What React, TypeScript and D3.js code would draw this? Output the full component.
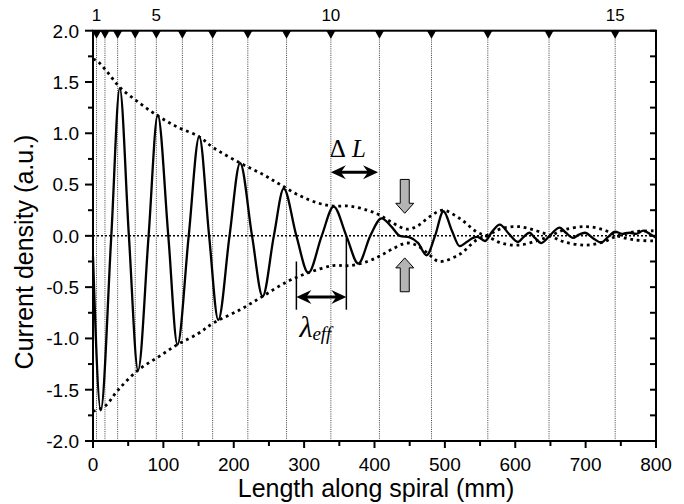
import React from 'react';
import * as d3 from 'd3';

const W = 684;
const H = 504;

// axis ticks
const xTicks = [0, 100, 200, 300, 400, 500, 600, 700, 800];
const xMinorTicks = [50, 150, 250, 350, 450, 550, 650, 750];
const yTicks = [-2, -1.5, -1, -0.5, 0, 0.5, 1, 1.5, 2];
const yMinorTicks = [-1.75, -1.25, -0.75, -0.25, 0.25, 0.75, 1.25, 1.75];

// turn markers along the spiral (top axis)
const turnPositions = [5, 17, 35, 60, 90, 127, 170, 220, 275, 338, 407, 481, 561, 648, 742];
const turnLabels = ['1', '', '', '', '5', '', '', '', '', '10', '', '', '', '', '15'];

// main current density curve
const curveX = [0, 11, 26, 38, 51, 64, 79, 92, 107, 120, 136, 151, 165, 178, 194, 209, 226, 241, 257, 271, 289, 306, 325, 342, 360, 377, 394, 410, 424, 436, 450, 462, 474, 486, 498, 510, 521, 531, 540, 546, 557, 567, 578, 591, 604, 612, 620, 628, 637, 650, 663, 672, 682, 690, 699, 710, 722, 732, 742, 752, 762, 772, 782, 791, 800];
const curveY = [-0.2, -1.7, 0, 1.44, 0, -1.31, 0, 1.18, 0, -1.06, 0, 0.97, 0, -0.82, 0, 0.71, 0, -0.59, 0, 0.46, 0, -0.36, 0, 0.285, 0, -0.27, 0, 0.17, 0.09, 0.0, -0.015, -0.07, -0.19, 0.0, 0.24, 0.05, -0.1, -0.06, -0.02, -0.01, -0.05, 0.04, 0.11, 0.02, -0.06, -0.01, 0.03, -0.02, -0.07, 0.01, 0.08, 0.03, -0.02, 0.01, 0.03, -0.02, -0.065, -0.01, 0.04, 0.02, 0.03, 0.02, 0.05, 0.02, -0.02];

// dotted envelopes
const envUpperX = [0, 5, 20, 38, 65, 92, 120, 150, 171, 209, 241, 266, 294, 320, 341, 365, 390, 408, 425, 446, 462, 479, 497, 521, 545, 562, 580, 605, 630, 650, 670, 700, 725, 745, 770, 800];
const envUpperY = [1.72, 1.71, 1.6, 1.45, 1.3, 1.17, 1.06, 0.97, 0.86, 0.71, 0.6, 0.5, 0.39, 0.32, 0.29, 0.29, 0.25, 0.2, 0.13, 0.065, 0.1, 0.19, 0.25, 0.17, 0.04, -0.01, -0.07, -0.09, -0.05, 0.0, 0.06, 0.09, 0.06, 0.0, -0.04, -0.05];
const envLowerX = [0, 17, 36, 64, 93, 120, 150, 171, 209, 241, 275, 306, 341, 365, 390, 408, 425, 446, 462, 479, 492, 521, 545, 562, 580, 605, 630, 650, 670, 700, 725, 745, 770, 800];
const envLowerY = [-1.71, -1.66, -1.5, -1.31, -1.18, -1.06, -0.95, -0.85, -0.72, -0.59, -0.45, -0.36, -0.29, -0.29, -0.25, -0.195, -0.13, -0.07, -0.1, -0.19, -0.25, -0.18, -0.04, 0.01, 0.07, 0.09, 0.05, 0.0, -0.06, -0.09, -0.06, 0.0, 0.04, 0.05];

// annotation anchors (data units)
const deltaL = { x1: 338, x2: 405, y: 0.62, labelY: 0.77 };
const lambda = { x1: 289, x2: 360, top1: -0.25, top2: 0.0, bottom: -0.72, arrowY: -0.595, labelY: -0.99 };
const squeeze = { x: 443, downTop: 0.55, downTip: 0.22, upTip: -0.215, upBottom: -0.545 };

const M = { left: 93, right: 656, top: 30.7, bottom: 441 };

export default function App() {
  const x = d3.scaleLinear().domain([0, 800]).range([M.left, M.right]);
  const y = d3.scaleLinear().domain([-2, 2]).range([M.bottom, M.top]);

  const mainLine = d3
    .line<[number, number]>()
    .x((d) => x(d[0]))
    .y((d) => y(d[1]))
    .curve(d3.curveMonotoneX);

  const envLine = d3
    .line<[number, number]>()
    .x((d) => x(d[0]))
    .y((d) => y(d[1]))
    .curve(d3.curveCatmullRom.alpha(0.5));

  const mainPath = mainLine(curveX.map((v, i) => [v, curveY[i]]) as [number, number][]) || '';
  const upPath = envLine(envUpperX.map((v, i) => [v, envUpperY[i]]) as [number, number][]) || '';
  const lowPath = envLine(envLowerX.map((v, i) => [v, envLowerY[i]]) as [number, number][]) || '';

  const sans = "'Liberation Sans', Arial, Helvetica, sans-serif";
  const serif = "'Liberation Serif', 'Times New Roman', serif";

  const head = (tx: number, ty: number, dir: number) => {
    const L = 15;
    const hw = 7;
    const notch = 5;
    return `M${tx},${ty} L${tx + dir * L},${ty - hw} L${tx + dir * (L - notch)},${ty} L${tx + dir * L},${ty + hw} Z`;
  };

  const blockArrow = (cx: number, tailY: number, tipY: number) => {
    const dir = tipY > tailY ? 1 : -1;
    const shaftW = 4.5;
    const headW = 9;
    const headL = 10;
    const neck = tipY - dir * headL;
    return `M${cx - shaftW},${tailY} L${cx + shaftW},${tailY} L${cx + shaftW},${neck} L${cx + headW},${neck} L${cx},${tipY} L${cx - headW},${neck} L${cx - shaftW},${neck} Z`;
  };

  const dlY = y(deltaL.y);
  const lamY = y(lambda.arrowY);

  return (
    <svg
      width={W}
      height={H}
      style={{ position: 'absolute', left: 0, top: 0, background: '#fff' }}
      xmlns="http://www.w3.org/2000/svg"
    >
      <rect x={0} y={0} width={W} height={H} fill="#fff" />

      {turnPositions.map((t, i) => (
        <line
          key={'v' + i}
          x1={x(t)}
          x2={x(t)}
          y1={M.top}
          y2={M.bottom}
          stroke="#000"
          strokeWidth={1}
          strokeDasharray="1,1.2"
          opacity={0.75}
        />
      ))}

      <line x1={M.left} x2={M.right} y1={y(0)} y2={y(0)} stroke="#000" strokeWidth={1.5} strokeDasharray="2,2" />

      <path d={upPath} fill="none" stroke="#000" strokeWidth={2.8} strokeDasharray="2.8,3.8" />
      <path d={lowPath} fill="none" stroke="#000" strokeWidth={2.8} strokeDasharray="2.8,3.8" />

      <path d={mainPath} fill="none" stroke="#000" strokeWidth={2.3} strokeLinejoin="round" />

      <rect x={M.left} y={M.top} width={M.right - M.left} height={M.bottom - M.top} fill="none" stroke="#000" strokeWidth={2} />

      {yTicks.map((t) => (
        <g key={'yt' + t}>
          <line x1={M.left - 8} x2={M.left} y1={y(t)} y2={y(t)} stroke="#000" strokeWidth={2} />
          <line x1={M.right - 6} x2={M.right} y1={y(t)} y2={y(t)} stroke="#000" strokeWidth={2} />
          <text x={79} y={y(t)} dy="0.36em" textAnchor="end" fontFamily={sans} fontSize={19}>
            {t.toFixed(1)}
          </text>
        </g>
      ))}
      {yMinorTicks.map((t) => (
        <g key={'ym' + t}>
          <line x1={M.left - 5} x2={M.left} y1={y(t)} y2={y(t)} stroke="#000" strokeWidth={2} />
          <line x1={M.right - 6} x2={M.right} y1={y(t)} y2={y(t)} stroke="#000" strokeWidth={2} />
        </g>
      ))}

      {xTicks.map((t) => (
        <g key={'xt' + t}>
          <line x1={x(t)} x2={x(t)} y1={M.bottom} y2={M.bottom + 7} stroke="#000" strokeWidth={2} />
          <text x={x(t)} y={471} textAnchor="middle" fontFamily={sans} fontSize={19}>
            {t}
          </text>
        </g>
      ))}
      {xMinorTicks.map((t) => (
        <line key={'xm' + t} x1={x(t)} x2={x(t)} y1={M.bottom} y2={M.bottom + 5} stroke="#000" strokeWidth={2} />
      ))}

      {turnPositions.map((t, i) => (
        <g key={'tm' + i}>
          <path d={`M${x(t) - 4.5},${M.top} L${x(t) + 4.5},${M.top} L${x(t)},${M.top + 8} Z`} fill="#000" />
          {turnLabels[i] && (
            <text x={x(t)} y={20.5} textAnchor="middle" fontFamily={sans} fontSize={17}>
              {turnLabels[i]}
            </text>
          )}
        </g>
      ))}

      <text x={376} y={497} textAnchor="middle" fontFamily={sans} fontSize={25}>
        Length along spiral (mm)
      </text>
      <text transform={`translate(33,${252}) rotate(-90)`} textAnchor="middle" fontFamily={sans} fontSize={25}>
        Current density (a.u.)
      </text>

      <line x1={x(deltaL.x1) + 8} x2={x(deltaL.x2) - 8} y1={dlY} y2={dlY} stroke="#000" strokeWidth={3} />
      <path d={head(x(deltaL.x1), dlY, 1)} fill="#000" />
      <path d={head(x(deltaL.x2), dlY, -1)} fill="#000" />
      <text x={x(deltaL.x1) - 1} y={y(deltaL.labelY)} fontFamily={serif} fontSize={25}>
        <tspan>Δ</tspan>
        <tspan dx={6} fontStyle="italic">L</tspan>
      </text>

      <line x1={x(lambda.x1)} x2={x(lambda.x1)} y1={y(lambda.top1)} y2={y(lambda.bottom)} stroke="#000" strokeWidth={1.5} />
      <line x1={x(lambda.x2)} x2={x(lambda.x2)} y1={y(lambda.top2)} y2={y(lambda.bottom)} stroke="#000" strokeWidth={1.5} />
      <line x1={x(lambda.x1) + 8} x2={x(lambda.x2) - 8} y1={lamY} y2={lamY} stroke="#000" strokeWidth={3} />
      <path d={head(x(lambda.x1), lamY, 1)} fill="#000" />
      <path d={head(x(lambda.x2), lamY, -1)} fill="#000" />
      <text x={x(lambda.x1) + 3} y={y(lambda.labelY)} fontFamily={serif} fontStyle="italic">
        <tspan fontSize={30}>λ</tspan>
        <tspan fontSize={19} dy={3}>eff</tspan>
      </text>

      <path d={blockArrow(x(squeeze.x), y(squeeze.downTop), y(squeeze.downTip))} fill="#b4b4b4" stroke="#000" strokeWidth={1} />
      <path d={blockArrow(x(squeeze.x), y(squeeze.upBottom), y(squeeze.upTip))} fill="#b4b4b4" stroke="#000" strokeWidth={1} />
    </svg>
  );
}
